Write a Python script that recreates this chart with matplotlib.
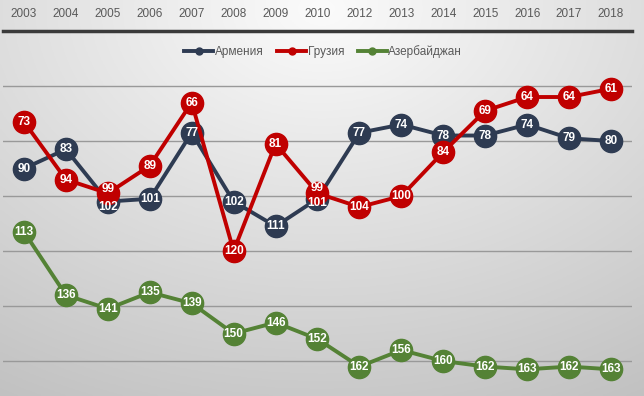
import numpy as np
import matplotlib
matplotlib.use("Agg")
import matplotlib.pyplot as plt
from matplotlib.lines import Line2D

years = ["2003", "2004", "2005", "2006", "2007", "2008", "2009", "2010",
         "2012", "2013", "2014", "2015", "2016", "2017", "2018"]
armenia = [90, 83, 102, 101, 77, 102, 111, 101, 77, 74, 78, 78, 74, 79, 80]
georgia = [73, 94, 99, 89, 66, 120, 81, 99, 104, 100, 84, 69, 64, 64, 61]
azerbaijan = [113, 136, 141, 135, 139, 150, 146, 152, 162, 156, 160, 162, 163, 162, 163]
series_names = ["Армения", "Грузия", "Азербайджан"]
colors = ["#2e3b52", "#c00000", "#548235"]

# label nudges (in points) where labels collide: (series index, point index) -> dy
label_nudge = {(0, 2): -4, (1, 2): 3, (0, 7): -3, (1, 7): 4}

W, H = 644, 396
fig = plt.figure(figsize=(W / 100, H / 100), dpi=100)

# background gradient
bg = fig.add_axes([0, 0, 1, 1], zorder=-10)
yy, xx = np.mgrid[0:1:200j, 0:1:300j]
d = np.sqrt(((xx - 0.5) * 1.15) ** 2 + ((yy - 0.02) * 1.0) ** 2)
val = 0.985 - 0.2 * np.clip(d, 0, 1.2)
bg.imshow(np.dstack([val, val, val]), extent=[0, 1, 0, 1], aspect="auto", origin="upper")
bg.set_axis_off()

ax = fig.add_axes([3 / W, 0, 629 / W, 1 - 31 / H])
ax.patch.set_alpha(0)
x = np.arange(len(years))
ax.set_xlim(-0.5, len(years) - 0.5)
ax.set_ylim(172.7, 40)

ax.set_yticks([60, 80, 100, 120, 140, 160])
ax.yaxis.grid(True, color="#999999", lw=1)
ax.tick_params(axis="y", length=0, labelleft=False)
ax.set_axisbelow(True)

ax.xaxis.tick_top()
ax.set_xticks(x)
ax.set_xticklabels(years, color="#595959", fontsize=8.5, family="Liberation Sans")
ax.tick_params(axis="x", length=0, pad=8)
for s in ["left", "right", "bottom"]:
    ax.spines[s].set_visible(False)
ax.spines["top"].set_color("#3a3a3a")
ax.spines["top"].set_linewidth(2.5)

all_vals = [armenia, georgia, azerbaijan]
for vals, c, z in zip(all_vals, colors, [3, 4, 5]):
    ax.plot(x, vals, color=c, lw=2.8, marker="o", ms=16, mfc=c, mec=c, zorder=z)
for si, vals in enumerate(all_vals):
    for xi, v in zip(x, vals):
        dy = label_nudge.get((si, xi), 0)
        ax.annotate(str(v), (xi, v), xytext=(0, dy), textcoords="offset points",
                    color="white", fontsize=8.5, fontweight="bold",
                    ha="center", va="center", family="Liberation Sans", zorder=10)

handles = [Line2D([0], [0], color=c, lw=2.8, marker="o", ms=5) for c in colors]
leg = fig.legend(handles, series_names, loc="center", bbox_to_anchor=(0.502, 1 - 52 / H),
                 ncol=3, frameon=False, handlelength=2.4, columnspacing=1.2,
                 handletextpad=0.15, prop={"family": "Liberation Sans", "size": 8.5})
for t in leg.get_texts():
    t.set_color("#595959")

fig.savefig("out.png", dpi=100)
